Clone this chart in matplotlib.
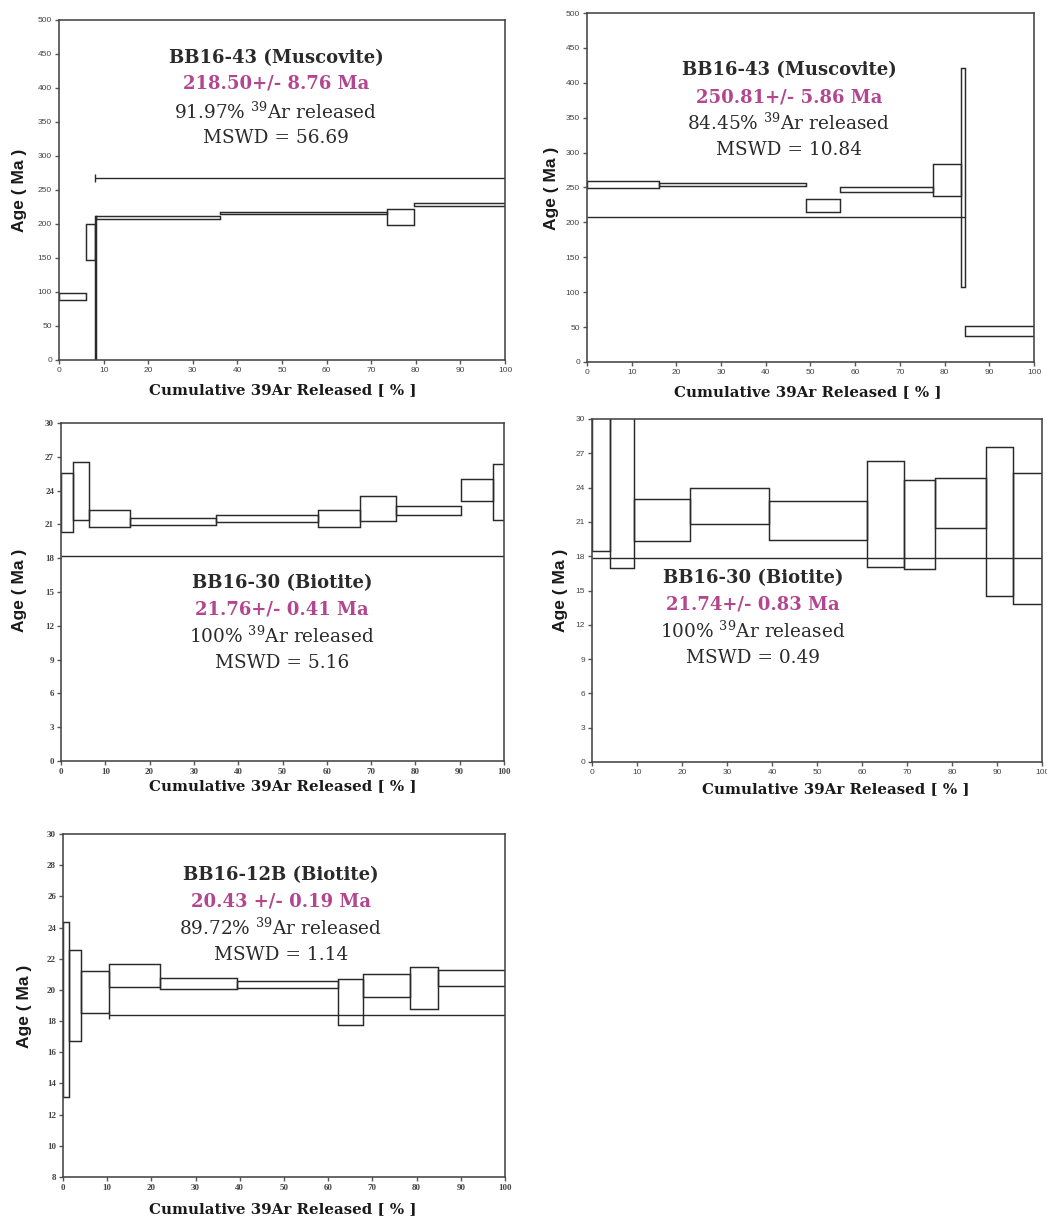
import matplotlib
matplotlib.use("Agg")
import matplotlib.pyplot as plt

plt.rcParams['mathtext.fontset'] = 'custom'
plt.rcParams['mathtext.rm'] = 'DejaVu Serif'

W, H = 1047, 1220
PINK = '#b2468f'
INK = '#2a2a2a'
SERIF = 'DejaVu Serif'

# ---- data ----
# panel 1: BB16-43 muscovite (a)
p1_edges = [0, 6.0, 8.0, 8.3, 36.0, 73.5, 79.5, 100]
p1_lo = [88, 147, -20, 207, 214, 199, 226]
p1_hi = [98, 200, 212, 212, 217, 222, 231]
p1_plateau = 268
p1_span = (8.0, 100)

# panel 2: BB16-43 muscovite (b)
p2_edges = [0, 16, 49, 56.5, 77.5, 83.7, 84.5, 100]
p2_lo = [249, 252, 215, 244, 238, 107, 37]
p2_hi = [260, 257, 233, 251, 283, 421, 51]
p2_plateau = 208
p2_span = (0, 84.5)

# panel 3: BB16-30 biotite (a)
p3_edges = [0, 2.8, 6.3, 15.5, 35.0, 58.0, 67.6, 75.6, 90.3, 97.5, 100]
p3_lo = [20.3, 21.4, 20.8, 20.95, 21.25, 20.8, 21.3, 21.8, 23.1, 21.4]
p3_hi = [25.6, 26.5, 22.25, 21.6, 21.85, 22.3, 23.5, 22.65, 25.0, 26.4]
p3_plateau = 18.2
p3_span = (0, 100)

# panel 4: BB16-30 biotite (b)
p4_edges = [0, 3.9, 9.4, 21.8, 39.4, 61.1, 69.3, 76.2, 87.6, 93.6, 100]
p4_lo = [18.45, 16.95, 19.3, 20.85, 19.4, 17.05, 16.85, 20.45, 14.55, 13.8]
p4_hi = [33, 35, 23.0, 24.0, 22.8, 26.3, 24.65, 24.85, 27.55, 25.25]
p4_plateau = 17.8
p4_span = (0, 100)

# panel 5: BB16-12B biotite
p5_edges = [0, 1.3, 4.0, 10.3, 21.9, 39.3, 62.3, 67.8, 78.4, 84.8, 100]
p5_lo = [13.1, 16.7, 18.5, 20.2, 20.05, 20.1, 17.75, 19.55, 18.8, 20.25]
p5_hi = [24.35, 22.55, 21.2, 21.65, 20.75, 20.6, 20.7, 21.0, 21.5, 21.27]
p5_plateau = 18.4
p5_span = (10.3, 100)

titles = ['BB16-43 (Muscovite)', 'BB16-43 (Muscovite)', 'BB16-30 (Biotite)',
          'BB16-30 (Biotite)', 'BB16-12B (Biotite)']
ages = ['218.50+/- 8.76 Ma', '250.81+/- 5.86 Ma', '21.76+/- 0.41 Ma',
        '21.74+/- 0.83 Ma', '20.43 +/- 0.19 Ma']
released = ['91.97%', '84.45%', '100%', '100%', '89.72%']
mswd = ['56.69', '10.84', '5.16', '0.49', '1.14']

fig = plt.figure(figsize=(W / 100, H / 100), dpi=100)


def px_axes(x0, x1, y0, y1):
    return fig.add_axes([x0 / W, 1 - y1 / H, (x1 - x0) / W, (y1 - y0) / H])


def fx(x):
    return x / W


def fy(y):
    return 1 - y / H


def spectrum(ax, edges, lo, hi, plateau, span, ylim, ystep, serif_ticks, cap=False):
    left = edges[:-1]
    widths = [b - a for a, b in zip(edges[:-1], edges[1:])]
    heights = [h - l for l, h in zip(lo, hi)]
    ax.bar(left, heights, width=widths, bottom=lo, align='edge', fill=False,
           edgecolor=INK, linewidth=1.05)
    ax.hlines(plateau, span[0], span[1], color=INK, linewidth=1.0)
    if cap:
        d = (ylim[1] - ylim[0]) * 0.012
        ax.vlines(span[0], plateau - d, plateau + d, color=INK, linewidth=1.0)
    ax.set_xlim(0, 100)
    ax.set_ylim(*ylim)
    ax.set_xticks(range(0, 101, 10))
    yt = []
    v = ylim[0]
    while v <= ylim[1] + 1e-9:
        yt.append(v)
        v += ystep
    ax.set_yticks(yt)
    for s in ax.spines.values():
        s.set_color('#444444')
        s.set_linewidth(1.15)
    ax.tick_params(direction='out', length=3, width=1, color='#555555',
                   labelsize=6, labelcolor='#444444', pad=2)
    if serif_ticks:
        for t in ax.get_xticklabels() + ax.get_yticklabels():
            t.set_family('Liberation Serif')
            t.set_fontweight('bold')
            t.set_fontsize(6.5)
    else:
        for t in ax.get_xticklabels() + ax.get_yticklabels():
            t.set_family('Liberation Sans')


def annotate(i, xc, ys, xlab, ylab):
    fig.text(fx(xc), fy(ys[0]), titles[i], ha='center', va='center',
             family=SERIF, fontweight='bold', fontsize=13, color=INK)
    fig.text(fx(xc), fy(ys[1]), ages[i], ha='center', va='center',
             family=SERIF, fontweight='bold', fontsize=13, color=PINK)
    fig.text(fx(xc), fy(ys[2]), released[i] + ' $^{39}$Ar released', ha='center',
             va='center', family=SERIF, fontsize=13.3, color=INK)
    fig.text(fx(xc), fy(ys[3]), 'MSWD = ' + mswd[i], ha='center', va='center',
             family=SERIF, fontsize=13.3, color=INK)
    fig.text(fx(xlab[0]), fy(xlab[1]), 'Cumulative 39Ar Released [ % ]',
             ha='center', va='center', family=SERIF,
             fontweight='bold', fontsize=10.8, color='#1a1a1a')
    fig.text(fx(ylab[0]), fy(ylab[1]), 'Age ( Ma )', ha='center', va='center',
             rotation=90, family='Liberation Sans', fontweight='bold',
             fontsize=12.5, color='#1a1a1a')


ax1 = px_axes(59, 505, 20, 360)
spectrum(ax1, p1_edges, p1_lo, p1_hi, p1_plateau, p1_span, (0, 500), 50, False, cap=True)
annotate(0, 276, [58, 84, 112, 138], (283, 390), (20, 190))

ax2 = px_axes(587, 1034, 13, 362)
spectrum(ax2, p2_edges, p2_lo, p2_hi, p2_plateau, p2_span, (0, 500), 50, False)
annotate(1, 789, [70, 97, 123, 150], (808, 392), (552, 188))

ax3 = px_axes(61, 504, 423, 761)
spectrum(ax3, p3_edges, p3_lo, p3_hi, p3_plateau, p3_span, (0, 30), 3, True)
annotate(2, 282, [583, 609, 636, 663], (283, 786), (20, 590))

ax4 = px_axes(592, 1042, 419, 762)
spectrum(ax4, p4_edges, p4_lo, p4_hi, p4_plateau, p4_span, (0, 30), 3, False)
annotate(3, 753, [578, 604, 631, 658], (836, 789), (561, 590))

ax5 = px_axes(63, 505, 834, 1177)
spectrum(ax5, p5_edges, p5_lo, p5_hi, p5_plateau, p5_span, (8, 30), 2, True, cap=True)
annotate(4, 281, [875, 902, 928, 955], (283, 1209), (25, 1006))

fig.savefig('out.png', dpi=100, facecolor='white')
